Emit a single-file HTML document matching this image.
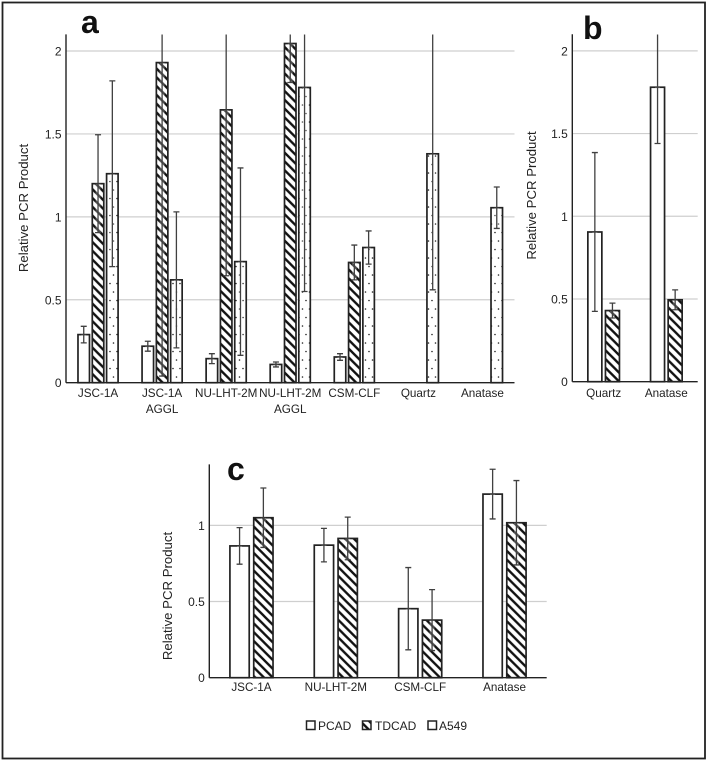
<!DOCTYPE html>
<html lang="en">
<head>
<meta charset="utf-8">
<title>Relative PCR Product charts</title>
<style>
html,body{margin:0;padding:0;background:#fff;}
svg{display:block;font-family:"Liberation Sans",sans-serif;}
</style>
</head>
<body>
<svg id="figure" xmlns="http://www.w3.org/2000/svg" width="709" height="762" viewBox="0 0 709 762">
  <defs>
    <pattern id="hatch" patternUnits="userSpaceOnUse" width="8.8" height="8.8">
      <rect width="8.8" height="8.8" fill="#fff"/>
      <path d="M-2.2,-2.2 L11,11 M-2.2,6.6 L2.2,11 M6.6,-2.2 L11,2.2" stroke="#111" stroke-width="2.35" fill="none"/>
    </pattern>
    <pattern id="dots" patternUnits="userSpaceOnUse" width="7" height="17">
      <rect width="7" height="17" fill="#fff"/>
      <circle cx="1.5" cy="3" r="0.8" fill="#222"/>
      <circle cx="5" cy="11.5" r="0.8" fill="#222"/>
    </pattern>
    <clipPath id="clip-a"><rect x="60" y="34.5" width="460" height="350"/></clipPath>
    <clipPath id="clip-b"><rect x="566" y="34.5" width="136" height="350"/></clipPath>
    <clipPath id="clip-c"><rect x="203" y="464.5" width="348" height="216"/></clipPath>
  </defs>
  <rect x="2.5" y="2.5" width="702.5" height="756" fill="#fff" stroke="#222" stroke-width="1.8"/>
  <g id="chart-a"></g>
  <g id="chart-b"></g>
  <g id="chart-c"></g>
  <text x="81" y="33" font-size="32" font-weight="bold" fill="#111">a</text>
  <text x="583" y="39" font-size="32" font-weight="bold" fill="#111">b</text>
  <text x="227" y="480" font-size="32" font-weight="bold" fill="#111">c</text>
  <g>
    <g>
      <rect x="306.5" y="721" width="8.5" height="8.5" fill="#fff" stroke="#222" stroke-width="1.5"/>
      <text x="318" y="730" font-size="12" fill="#222">PCAD</text>
    </g>
    <g>
      <rect x="362.5" y="721" width="8.5" height="8.5" fill="url(#hatch)" stroke="#222" stroke-width="1.5"/>
      <text x="375" y="730" font-size="12" fill="#222">TDCAD</text>
    </g>
    <g>
      <rect x="428" y="721" width="8.5" height="8.5" fill="#fff" stroke="#222" stroke-width="1.5"/>
      <text x="439" y="730" font-size="12" fill="#222">A549</text>
    </g>
  </g>
</svg>
<script>
// Panel a data
const aCategories = ["JSC-1A", "JSC-1A|AGGL", "NU-LHT-2M", "NU-LHT-2M|AGGL", "CSM-CLF", "Quartz", "Anatase"];
const aPcad = [0.29, 0.22, 0.145, 0.11, 0.155, null, null];
const aPcadErr = [0.05, 0.03, 0.03, 0.015, 0.02, null, null];
const aTdcad = [1.2, 1.93, 1.645, 2.045, 0.725, null, null];
const aTdcadErr = [0.295, 1.89, 1.0, 0.235, 0.105, null, null];
const aA549 = [1.26, 0.62, 0.73, 1.78, 0.815, 1.38, 1.055];
const aA549Err = [0.56, 0.41, 0.565, 1.23, 0.1, 0.82, 0.125];
const aTicks = [0, 0.5, 1, 1.5, 2];

// Panel b data
const bCategories = ["Quartz", "Anatase"];
const bPcad = [0.905, 1.78];
const bPcadErr = [0.48, 0.34];
const bTdcad = [0.43, 0.495];
const bTdcadErr = [0.045, 0.06];
const bTicks = [0, 0.5, 1, 1.5, 2];

// Panel c data
const cCategories = ["JSC-1A", "NU-LHT-2M", "CSM-CLF", "Anatase"];
const cPcad = [0.865, 0.87, 0.453, 1.205];
const cPcadErr = [0.12, 0.11, 0.27, 0.163];
const cTdcad = [1.05, 0.914, 0.378, 1.017];
const cTdcadErr = [0.195, 0.14, 0.2, 0.277];
const cTicks = [0, 0.5, 1];

const SVG_NS = "http://www.w3.org/2000/svg";

function make(parent, tag, attrs, text) {
  const el = document.createElementNS(SVG_NS, tag);
  for (const k in attrs) el.setAttribute(k, attrs[k]);
  if (text !== undefined) el.textContent = text;
  parent.appendChild(el);
  return el;
}

function tickText(v) { return String(v); }

function drawChart(o) {
  const root = document.getElementById(o.id);
  const yOf = function (v) { return o.y0 - (v / o.yMax) * (o.y0 - o.yTop); };
  const step = (o.right - o.left) / o.categories.length;
  const xOf = function (i) { return o.left + (i + 0.5) * step; };

  o.ticks.forEach(function (t) {
    if (t !== 0) {
      const grid = make(root, "line", { x1: o.left, x2: o.right, y1: yOf(t), y2: yOf(t), stroke: "#cfcfcf", "stroke-width": 1.2 });
      
      
    }
    const label = make(root, "text", { x: o.left - 4.5, y: yOf(t) + 4.5, "text-anchor": "end", "font-size": 12, fill: "#222" }, tickText(t));
    
    
  });

  const n = o.series.length;
  o.series.forEach(function (s, k) {
    s.values.forEach(function (v, i) {
      if (v === null) return;
      const cx = xOf(i) + (k - (n - 1) / 2) * o.barStep;
      const bar = make(root, "rect", { x: cx - o.barWidth / 2, y: yOf(v), width: o.barWidth, height: o.y0 - yOf(v), fill: s.fill, stroke: "#222", "stroke-width": 1.7 });
      
      
    });
  });

  const errGroup = make(root, "g", { "clip-path": "url(#" + o.clip + ")" });
  
  
  o.series.forEach(function (s, k) {
    s.values.forEach(function (v, i) {
      if (v === null) return;
      const cx = xOf(i) + (k - (n - 1) / 2) * o.barStep;
      const hi = yOf(v + s.errors[i]);
      const lo = yOf(v - s.errors[i]);
      const halo = make(errGroup, "line", { x1: cx, x2: cx, y1: Math.max(hi, yOf(v)), y2: lo, stroke: "#fff", "stroke-width": 5, "stroke-opacity": 0.25 });
      
      
      const err = make(errGroup, "path", {
        d: "M" + cx + "," + hi + "V" + lo + "M" + (cx - 3) + "," + hi + "H" + (cx + 3) + "M" + (cx - 3) + "," + lo + "H" + (cx + 3),
        stroke: "#404040", "stroke-width": 1.3, fill: "none"
      });
      
      
    });
  });

  const yAxis = make(root, "line", { x1: o.left, x2: o.left, y1: o.yTop, y2: o.y0, stroke: "#222", "stroke-width": 1.4 });
  
  
  const xAxis = make(root, "line", { x1: o.left, x2: o.right, y1: o.y0, y2: o.y0, stroke: "#222", "stroke-width": 1.4 });
  
  

  o.categories.forEach(function (c, i) {
    c.split("|").forEach(function (line, row) {
      const label = make(root, "text", { x: xOf(i), y: o.labelY + row * 16, "text-anchor": "middle", "font-size": 11.7, fill: "#222" }, line);
      
      
    });
  });

  const title = make(root, "text", {
    transform: "translate(" + o.titleX + "," + o.titleY + ") rotate(-90)",
    "text-anchor": "middle", "font-size": 13.2, fill: "#222"
  }, "Relative PCR Product");
  
  
}

drawChart({
  id: "chart-a", clip: "clip-a", left: 66, right: 514.5, y0: 382.7, yTop: 34.4, yMax: 2.1,
  barWidth: 11.5, barStep: 14.3, labelY: 397, titleX: 28, titleY: 208,
  categories: aCategories, ticks: aTicks,
  series: [
    { name: "pcad", values: aPcad, errors: aPcadErr, fill: "#fff" },
    { name: "tdcad", values: aTdcad, errors: aTdcadErr, fill: "url(#hatch)" },
    { name: "a549", values: aA549, errors: aA549Err, fill: "url(#dots)" }
  ]
});

drawChart({
  id: "chart-b", clip: "clip-b", left: 572.3, right: 697.7, y0: 381.7, yTop: 34.3, yMax: 2.1,
  barWidth: 14, barStep: 17.6, labelY: 397, titleX: 536, titleY: 195.5,
  categories: bCategories, ticks: bTicks,
  series: [
    { name: "pcad", values: bPcad, errors: bPcadErr, fill: "#fff" },
    { name: "tdcad", values: bTdcad, errors: bTdcadErr, fill: "url(#hatch)" }
  ]
});

drawChart({
  id: "chart-c", clip: "clip-c", left: 209.3, right: 546.7, y0: 677.7, yTop: 464.4, yMax: 1.4,
  barWidth: 19.3, barStep: 23.8, labelY: 691, titleX: 172, titleY: 596,
  categories: cCategories, ticks: cTicks,
  series: [
    { name: "pcad", values: cPcad, errors: cPcadErr, fill: "#fff" },
    { name: "tdcad", values: cTdcad, errors: cTdcadErr, fill: "url(#hatch)" }
  ]
});
</script>
</body>
</html>
